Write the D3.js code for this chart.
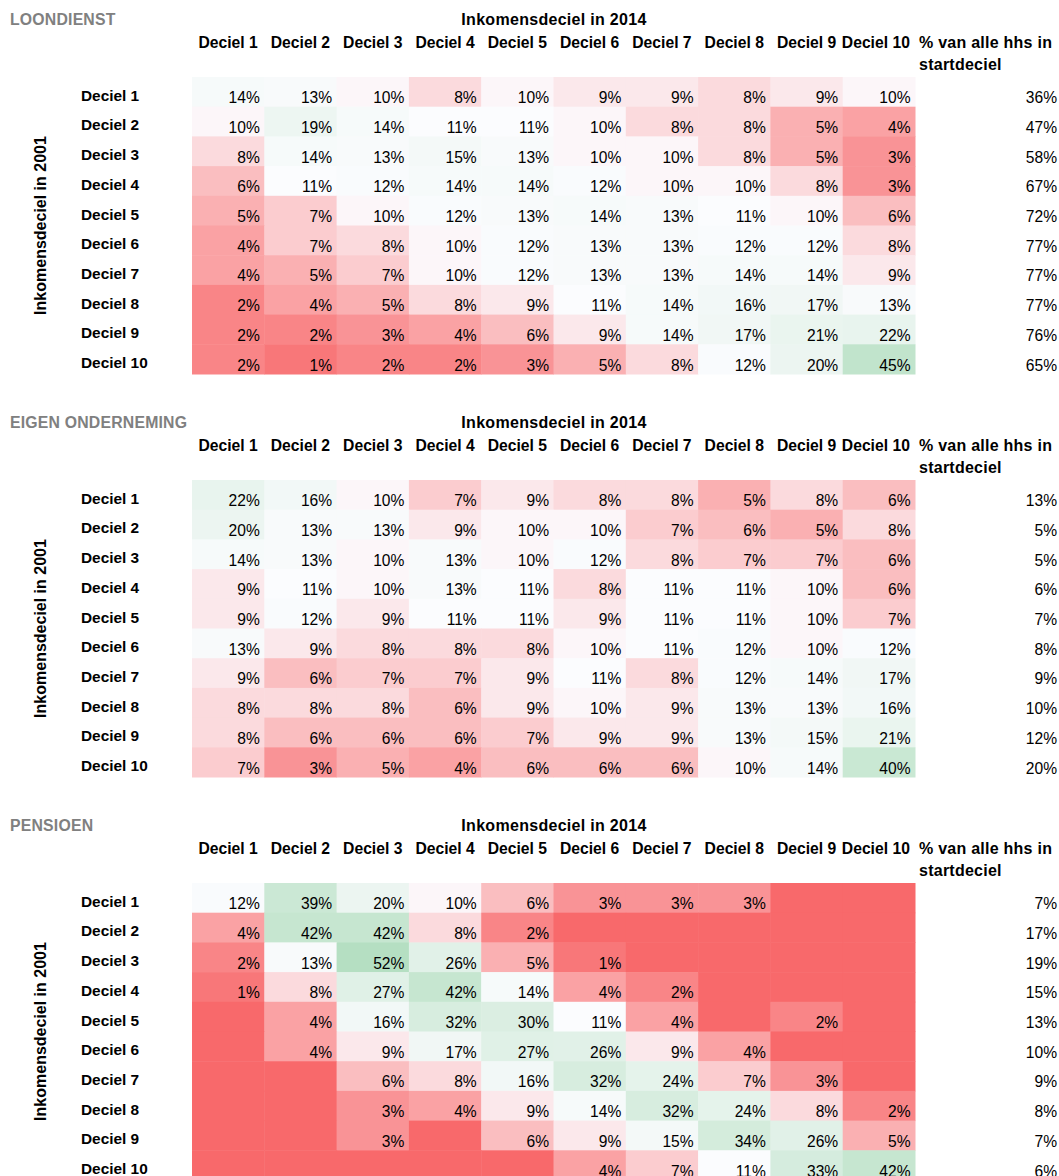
<!DOCTYPE html>
<html>
<head>
<meta charset="utf-8">
<script src="https://cdn.jsdelivr.net/npm/d3@7"></script>
<style>
  html, body { margin: 0; padding: 0; background: #fff; }
  svg { display: block; font-family: "Liberation Sans", Arial, sans-serif; }
</style>
</head>
<body>
<svg id="chart" width="1059" height="1176"></svg>
<script>
// ---------- DATA ----------
const rowLabels = ["Deciel 1","Deciel 2","Deciel 3","Deciel 4","Deciel 5","Deciel 6","Deciel 7","Deciel 8","Deciel 9","Deciel 10"];
const colLabels = ["Deciel 1","Deciel 2","Deciel 3","Deciel 4","Deciel 5","Deciel 6","Deciel 7","Deciel 8","Deciel 9","Deciel 10"];
const colTitle = "Inkomensdeciel in 2014";
const rowTitle = "Inkomensdeciel in 2001";
const shareTitleLines = ["% van alle hhs in", "startdeciel"];
const panelTitles = ["LOONDIENST", "EIGEN ONDERNEMING", "PENSIOEN"];

const loondienst = [
  [14,13,10,8,10,9,9,8,9,10],
  [10,19,14,11,11,10,8,8,5,4],
  [8,14,13,15,13,10,10,8,5,3],
  [6,11,12,14,14,12,10,10,8,3],
  [5,7,10,12,13,14,13,11,10,6],
  [4,7,8,10,12,13,13,12,12,8],
  [4,5,7,10,12,13,13,14,14,9],
  [2,4,5,8,9,11,14,16,17,13],
  [2,2,3,4,6,9,14,17,21,22],
  [2,1,2,2,3,5,8,12,20,45]
];
const loondienstShare = [36,47,58,67,72,77,77,77,76,65];

const eigenOnderneming = [
  [22,16,10,7,9,8,8,5,8,6],
  [20,13,13,9,10,10,7,6,5,8],
  [14,13,10,13,10,12,8,7,7,6],
  [9,11,10,13,11,8,11,11,10,6],
  [9,12,9,11,11,9,11,11,10,7],
  [13,9,8,8,8,10,11,12,10,12],
  [9,6,7,7,9,11,8,12,14,17],
  [8,8,8,6,9,10,9,13,13,16],
  [8,6,6,6,7,9,9,13,15,21],
  [7,3,5,4,6,6,6,10,14,40]
];
const eigenOndernemingShare = [13,5,5,6,7,8,9,10,12,20];

// null = empty cell (0%, not shown)
const pensioen = [
  [12,39,20,10,6,3,3,3,null,null],
  [4,42,42,8,2,null,null,null,null,null],
  [2,13,52,26,5,1,null,null,null,null],
  [1,8,27,42,14,4,2,null,null,null],
  [null,4,16,32,30,11,4,null,2,null],
  [null,4,9,17,27,26,9,4,null,null],
  [null,null,6,8,16,32,24,7,3,null],
  [null,null,3,4,9,14,32,24,8,2],
  [null,null,3,null,6,9,15,34,26,5],
  [null,null,null,null,null,4,7,11,33,42]
];
const pensioenShare = [7,17,19,15,13,10,9,8,7,6];

const panels = [
  { title: panelTitles[0], values: loondienst, share: loondienstShare },
  { title: panelTitles[1], values: eigenOnderneming, share: eigenOndernemingShare },
  { title: panelTitles[2], values: pensioen, share: pensioenShare }
];

// ---------- LAYOUT ----------
const svg = d3.select("#chart");
const panelStep = 403;
const gridTop = 77;
const gridX0 = 192, gridX1 = 915;
const rowH = 29.7;
const shareRight = 1057;
const fsHead = 15.7;
const fsBody = 15.6;

const x = d3.scaleBand().domain(d3.range(10)).range([gridX0, gridX1]).paddingInner(0).paddingOuter(0);
const y = d3.scaleBand().domain(d3.range(10)).range([0, rowH * 10]);

const color = d3.scaleLinear()
  .domain([0, 10.4, 100])
  .range(["#F8696B", "#FCFCFF", "#63BE7B"])
  .clamp(true);

panels.forEach((p, pi) => {
  const off = pi * panelStep;
  const g = svg.append("g").attr("transform", `translate(0,${off})`);

  // Panel title
  g.append("text")
    .attr("x", 10).attr("y", 25)
    .attr("font-size", 15.8).attr("font-weight", "bold")
    .attr("letter-spacing", 0.2)
    .attr("fill", "#808080")
    .text(p.title);

  // Column group title
  g.append("text")
    .attr("x", 554).attr("y", 25)
    .attr("text-anchor", "middle")
    .attr("font-size", 16).attr("font-weight", "bold")
    .attr("letter-spacing", 0.3)
    .text(colTitle);

  // Column headers
  g.selectAll("text.colh").data(colLabels).enter().append("text")
    .attr("class", "colh")
    .attr("x", (d, i) => x(i) + x.bandwidth() / 2 - (i === 9 ? 3 : 0))
    .attr("y", 48)
    .attr("text-anchor", "middle")
    .attr("font-size", fsHead).attr("font-weight", "bold")
    .text(d => d);

  // Share header
  g.selectAll("text.shh").data(shareTitleLines).enter().append("text")
    .attr("class", "shh")
    .attr("x", 919).attr("y", (d, i) => 48 + i * 22)
    .attr("font-size", 16).attr("font-weight", "bold")
    .attr("letter-spacing", 0.25)
    .text(d => d);

  const grid = g.append("g").attr("transform", `translate(0,${gridTop})`);

  // Cells
  const cells = [];
  p.values.forEach((row, r) => row.forEach((v, c) => cells.push({ r, c, v })));

  grid.selectAll("rect.cell").data(cells).enter().append("rect")
    .attr("class", "cell")
    .attr("x", d => x(d.c))
    .attr("y", d => y(d.r))
    .attr("width", x.bandwidth() + 0.5)
    .attr("height", y.bandwidth() + 0.5)
    .attr("fill", d => color(d.v == null ? 0 : d.v));

  grid.selectAll("text.val").data(cells.filter(d => d.v != null)).enter().append("text")
    .attr("class", "val")
    .attr("x", d => x(d.c) + x.bandwidth() - 4.5)
    .attr("y", d => y(d.r) + y.bandwidth() - 3.5)
    .attr("text-anchor", "end")
    .attr("font-size", fsBody)
    .attr("fill", "#000")
    .text(d => d.v + "%");

  // Row labels
  grid.selectAll("text.rowl").data(rowLabels).enter().append("text")
    .attr("class", "rowl")
    .attr("x", 81)
    .attr("y", (d, i) => y(i) + y.bandwidth() - 6)
    .attr("font-size", 15.4).attr("font-weight", "bold")
    .text(d => d);

  // Share values
  grid.selectAll("text.share").data(p.share).enter().append("text")
    .attr("class", "share")
    .attr("x", shareRight)
    .attr("y", (d, i) => y(i) + y.bandwidth() - 3.5)
    .attr("text-anchor", "end")
    .attr("font-size", fsBody)
    .text(d => d + "%");

  // Row title (rotated)
  const cy = rowH * 5;
  grid.append("text")
    .attr("transform", `translate(45.5,${cy}) rotate(-90)`)
    .attr("text-anchor", "middle")
    .attr("font-size", 16).attr("font-weight", "bold")
    .text(rowTitle);
});
</script>
</body>
</html>
